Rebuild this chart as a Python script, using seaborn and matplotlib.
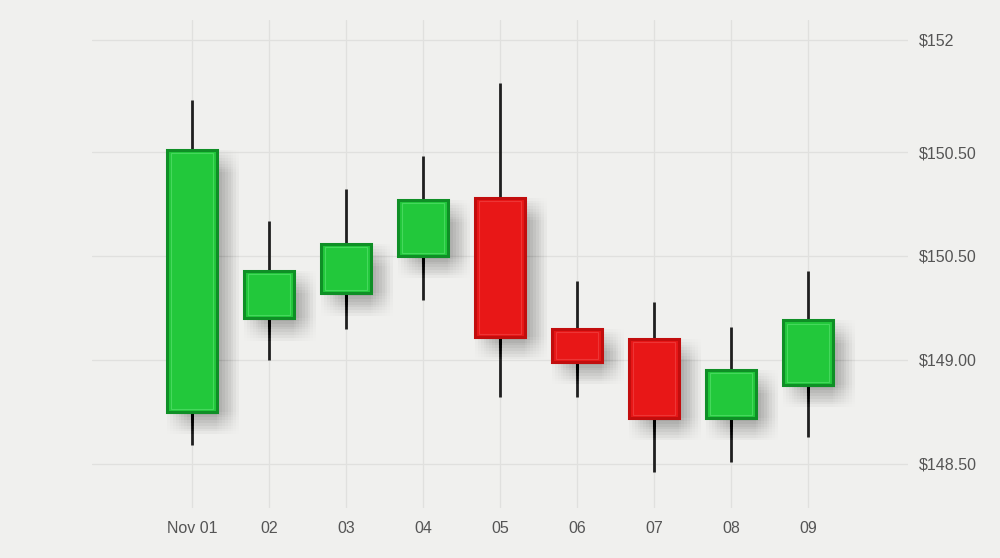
import matplotlib
matplotlib.use("Agg")
import matplotlib.pyplot as plt
import matplotlib.patheffects as pe
import seaborn as sns
import numpy as np

# ---- data ----
dates = ["Nov 01", "02", "03", "04", "05", "06", "07", "08", "09"]
opens = [148.75, 149.20, 149.32, 149.50, 149.78, 149.15, 149.10, 148.72, 148.88]
closes = [150.01, 149.43, 149.56, 149.77, 149.11, 148.99, 148.72, 148.95, 149.19]
highs = [150.25, 149.67, 149.82, 149.98, 150.33, 149.38, 149.28, 149.16, 149.43]
lows = [148.59, 149.00, 149.15, 149.29, 148.82, 148.82, 148.46, 148.51, 148.63]
ytick_values = [148.5, 149.0, 149.5, 150.0, 150.54]
ytick_labels = ["$148.50", "$149.00", "$150.50", "$150.50", "$152"]

BG = "#f0f0ee"
GREEN_FILL, GREEN_EDGE, GREEN_HI = "#22c83b", "#0f8f26", "#5ee473"
RED_FILL, RED_EDGE, RED_HI = "#e81717", "#c20d0d", "#f24a4a"

sns.set_theme(style="whitegrid", rc={
    "axes.facecolor": BG, "figure.facecolor": BG,
    "grid.color": "#e0e0de", "grid.linewidth": 0.9,
})
plt.rcParams["font.family"] = ["Liberation Sans", "DejaVu Sans"]

fig = plt.figure(figsize=(10, 5.58), dpi=100)
ax = fig.add_axes([0.092, 0.0896, 0.816, 0.8746])

x = np.arange(len(dates))
o = np.array(opens); c = np.array(closes)
up = c >= o
bottoms = np.minimum(o, c)
heights = np.abs(c - o)

# soft drop shadow approximated by many faint offset copies
shadow = [pe.SimplePatchShadow(offset=(dx, -dy), shadow_rgbFace="#000000", alpha=0.0045)
          for dx in range(0, 17, 2) for dy in range(0, 17, 2)]

# wicks
ax.vlines(x, lows, highs, colors="#1f1f1f", linewidth=2.0, zorder=3)

fills = [GREEN_FILL if u else RED_FILL for u in up]
edges = [GREEN_EDGE if u else RED_EDGE for u in up]
his = [GREEN_HI if u else RED_HI for u in up]

bars = ax.bar(x, heights, bottom=bottoms, width=0.64, color=fills,
              edgecolor=edges, linewidth=2.2, zorder=4)
for b in bars:
    b.set_path_effects(shadow + [pe.Normal()])

# inner highlight bevel
ax.bar(x, heights - 0.03, bottom=bottoms + 0.015, width=0.54, color="none",
       edgecolor=his, linewidth=0.8, alpha=0.6, zorder=5)

ax.set_xlim(-1.3, 9.3)
ax.set_ylim(148.288, 150.635)
ax.set_xticks(x)
ax.set_xticklabels(dates)
ax.set_yticks(ytick_values)
ax.set_yticklabels(ytick_labels)
ax.yaxis.tick_right()
ax.tick_params(axis="both", length=0, labelsize=11.5, labelcolor="#555555")
ax.tick_params(axis="x", pad=9)
ax.tick_params(axis="y", pad=8)
for s in ax.spines.values():
    s.set_visible(False)
ax.grid(True, zorder=0)
ax.set_axisbelow(True)

fig.savefig("out.png", dpi=100, facecolor=BG)
